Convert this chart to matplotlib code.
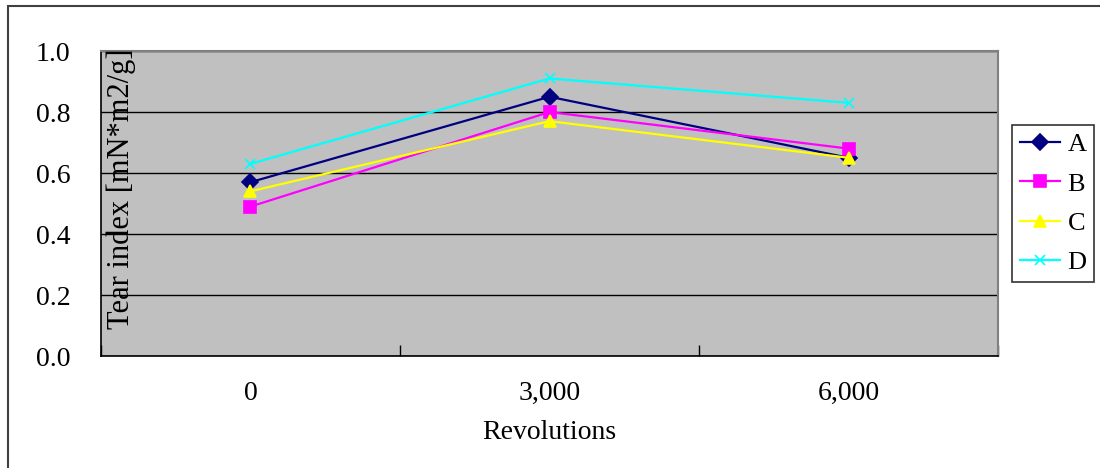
import matplotlib.pyplot as plt
from matplotlib.patches import Rectangle


# Tear index by beating revolutions
revolutions = ["0", "3,000", "6,000"]
series_names = ["A", "B", "C", "D"]
tear_a = [0.57, 0.85, 0.65]
tear_b = [0.49, 0.80, 0.68]
tear_c = [0.54, 0.77, 0.65]
tear_d = [0.63, 0.91, 0.83]
y_ticks = [0.0, 0.2, 0.4, 0.6, 0.8, 1.0]

FONT = ["Liberation Serif", "DejaVu Serif"]


def main():
    plt.rcParams["font.family"] = FONT

    fig = plt.figure(figsize=(11, 4.68), dpi=100)
    ax = fig.add_axes([0.0918, 0.2393, 0.8155, 0.6517])
    ax.set_facecolor("#c0c0c0")

    styles = [
        ("#000080", "D", 8),
        ("#ff00ff", "s", 8),
        ("#ffff00", "^", 9),
        ("#00ffff", "x", 7),
    ]
    x = list(range(len(revolutions)))
    for name, values, (color, marker, ms) in zip(
        series_names, [tear_a, tear_b, tear_c, tear_d], styles
    ):
        ax.plot(x, values, color=color, marker=marker, markersize=ms,
                linewidth=1.6, markeredgewidth=1.2, label=name, zorder=3)

    ax.set_xlim(-0.5, len(revolutions) - 0.5)
    ax.set_ylim(0, 1.0)

    # category ticks sit between the categories, labels in the middle
    ax.set_xticks([i - 0.5 for i in range(len(revolutions) + 1)])
    ax.set_xticklabels([])
    ax.set_xticks(x, minor=True)
    ax.set_xticklabels(revolutions, minor=True, fontsize=20)
    ax.tick_params(axis="x", which="major", direction="in", length=8,
                   width=1, color="black")
    ax.tick_params(axis="x", which="minor", length=0, pad=18)

    ax.set_yticks(y_ticks)
    ax.set_yticklabels([f"{v:.1f}" for v in y_ticks], fontsize=20)
    ax.tick_params(axis="y", length=0, pad=22)

    ax.grid(axis="y", color="black", linewidth=1)
    ax.set_axisbelow(True)

    ax.spines["left"].set_color("black")
    ax.spines["bottom"].set_color("black")
    ax.spines["left"].set_linewidth(1.2)
    ax.spines["bottom"].set_linewidth(1.2)
    ax.spines["top"].set_color("#808080")
    ax.spines["right"].set_color("#808080")
    ax.spines["top"].set_linewidth(1.5)
    ax.spines["right"].set_linewidth(1.5)

    ax.set_xlabel("Revolutions", fontsize=20, labelpad=10)

    # axis title is drawn over the plot area, along the left edge
    fig.text(0.1105, 0.597, "Tear index [mN*m2/g]", rotation=90,
             ha="center", va="center", fontsize=22)

    leg = fig.legend(loc="upper left",
                     bbox_to_anchor=(1012 / 1100, 1 - 125 / 468),
                     bbox_transform=fig.transFigure,
                     frameon=True, fancybox=False, fontsize=19,
                     handlelength=1.5, handletextpad=0.3, borderpad=0.3,
                     labelspacing=0.6, borderaxespad=0)
    leg.get_frame().set_edgecolor("black")
    leg.get_frame().set_linewidth(1.2)

    # outer chart frame
    fig.patches.append(Rectangle((8 / 1100, -0.2), 1.2, 1.2 - 6 / 468,
                                 transform=fig.transFigure, fill=False,
                                 edgecolor="#404040", linewidth=1.5))

    fig.savefig("out.png", dpi=100)


if __name__ == "__main__":
    main()
